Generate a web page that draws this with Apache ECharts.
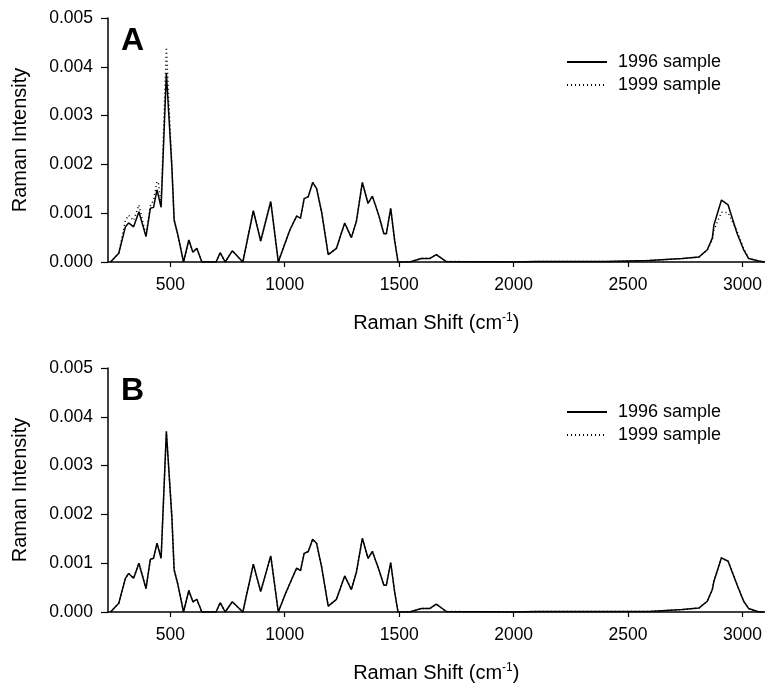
<!DOCTYPE html>
<html>
<head>
<meta charset="utf-8">
<script src="https://cdn.jsdelivr.net/npm/echarts@6/dist/echarts.min.js"></script>
<style>
  html, body { margin: 0; padding: 0; background: #fff; }
  #main { width: 765px; height: 690px; }
</style>
</head>
<body>
<div id="main"></div>
<script>
// Raman shift positions (cm-1) shared by all traces
var shift = [239, 275, 304, 318, 340, 363, 394, 413, 427, 442, 449, 460, 467, 483, 490, 507, 517, 532, 558, 581,
  599, 616, 638, 700, 718, 740, 771, 817, 863, 895, 939, 972, 1001, 1023, 1052, 1069, 1085, 1103, 1122, 1139,
  1161, 1190, 1226, 1262, 1291, 1313, 1339, 1364, 1383, 1412, 1433, 1444, 1463, 1480, 1495, 1546, 1597, 1633, 1662, 1706,
  2000, 2100, 2400, 2591, 2737, 2809, 2846, 2868, 2875, 2908, 2937, 2976, 3005, 3027, 3071, 3096];

// panel A
var a1996 = [0, 0.00018, 0.00072, 0.0008, 0.00072, 0.00103, 0.00052, 0.0011, 0.00112, 0.00148, 0.00144, 0.00112, 0.0011, 0.00387, 0.00387, 0.00195, 0.00086, 0.00058, 0, 0.00045,
  0.0002, 0.00028, 0, 0, 0.00019, 0, 0.00023, 0, 0.00105, 0.00043, 0.00124, 0, 0.00038, 0.00066, 0.00094, 0.0009, 0.0013, 0.00134, 0.00163, 0.00151,
  0.00103, 0.00015, 0.00028, 0.0008, 0.0005, 0.00083, 0.00163, 0.0012, 0.00135, 0.00094, 0.00058, 0.00058, 0.0011, 0.00045, 0, 0, 0.00007, 0.00007, 0.00015, 0.00001,
  0, 0.00001, 0.00001, 0.00003, 0.00007, 0.0001, 0.00025, 0.00049, 0.00076, 0.00127, 0.00117, 0.00059, 0.00025, 0.00007, 0.00002, 0];
var a1999 = [0, 0.00018, 0.00085, 0.00096, 0.00085, 0.00117, 0.00055, 0.00115, 0.00127, 0.00165, 0.0016, 0.00118, 0.00115, 0.0044, 0.0044, 0.00195, 0.00086, 0.00058, 0, 0.00045,
  0.0002, 0.00028, 0, 0, 0.00019, 0, 0.00023, 0, 0.00105, 0.00043, 0.00124, 0, 0.00038, 0.00066, 0.00094, 0.0009, 0.0013, 0.00134, 0.00163, 0.00151,
  0.00103, 0.00015, 0.00028, 0.0008, 0.0005, 0.00083, 0.00163, 0.0012, 0.00135, 0.00094, 0.00058, 0.00058, 0.0011, 0.00045, 0, 0, 0.00007, 0.00007, 0.00015, 0.00001,
  0, 0.00001, 0.00001, 0.00003, 0.00007, 0.0001, 0.00025, 0.00045, 0.00065, 0.00102, 0.00101, 0.00063, 0.00028, 0.00007, 0.00002, 0];

// panel B
var b1996 = [0, 0.00018, 0.00069, 0.00079, 0.00069, 0.001, 0.00048, 0.00108, 0.0011, 0.00141, 0.00139, 0.0011, 0.00107, 0.0037, 0.00373, 0.00195, 0.00086, 0.00059, 0, 0.00044,
  0.00021, 0.00026, 0, 0, 0.00019, 0, 0.00021, 0, 0.00098, 0.00042, 0.00115, 0, 0.00035, 0.00059, 0.0009, 0.00085, 0.0012, 0.00124, 0.00149, 0.00141,
  0.00093, 0.00012, 0.00026, 0.00074, 0.00046, 0.00081, 0.00151, 0.0011, 0.00124, 0.00086, 0.00055, 0.00055, 0.00101, 0.00042, 0, 0, 0.00007, 0.00007, 0.00016, 0.00001,
  0, 0.00001, 0.00001, 0.00001, 0.00005, 0.00008, 0.00022, 0.00046, 0.00063, 0.00111, 0.00104, 0.00056, 0.00022, 0.00007, 0, 0];
var b1999 = b1996.slice();

var xTicks = [500, 1000, 1500, 2000, 2500, 3000];
var seriesNames = ['1996 sample', '1999 sample'];
var panelLabels = ['A', 'B'];

var FONT = 'Liberation Sans, Arial, sans-serif';

function pairs(ys) {
  return shift.map(function (x, i) { return [x, ys[i]]; });
}

function xAxisOf(idx) {
  return {
    type: 'value', gridIndex: idx, min: 228, max: 3096,
    name: '{a|Raman Shift (cm}{s|-1}{a|)}',
    nameLocation: 'middle', nameGap: 50,
    nameTextStyle: {
      rich: {
        a: { fontSize: 20, fontFamily: FONT, color: '#000' },
        s: { fontSize: 12, fontFamily: FONT, color: '#000', verticalAlign: 'top', padding: [0, 0, 10, 0] }
      }
    },
    axisLine: { lineStyle: { color: '#000', width: 1.5 } },
    axisTick: { customValues: xTicks, length: 5, lineStyle: { color: '#000', width: 1.2 } },
    axisLabel: {
      customValues: xTicks, margin: 14, fontSize: 17.5, fontFamily: FONT, color: '#000',
      formatter: function (v) { return String(v); }
    },
    splitLine: { show: false }
  };
}

function yAxisOf(idx) {
  return {
    type: 'value', gridIndex: idx, min: 0, max: 0.005, interval: 0.001,
    name: 'Raman Intensity', nameLocation: 'middle', nameGap: 78,
    nameTextStyle: { fontSize: 20, fontFamily: FONT, color: '#000' },
    axisLine: { show: true, lineStyle: { color: '#000', width: 1.5 } },
    axisTick: { show: true, length: 7, lineStyle: { color: '#000', width: 1.2 } },
    axisLabel: {
      margin: 15, fontSize: 17.5, fontFamily: FONT, color: '#000',
      formatter: function (v) { return v.toFixed(3); }
    },
    splitLine: { show: false }
  };
}

function seriesOf(idx, d96, d99) {
  return [
    {
      name: seriesNames[0], type: 'line', xAxisIndex: idx, yAxisIndex: idx,
      data: pairs(d96), symbol: 'none', z: 3,
      lineStyle: { color: '#000', width: 1.5 }, itemStyle: { color: '#000' }
    },
    {
      name: seriesNames[1], type: 'line', xAxisIndex: idx, yAxisIndex: idx,
      data: pairs(d99), symbol: 'none', z: 2,
      lineStyle: { color: '#000', width: 1.5, type: [1, 3] }, itemStyle: { color: '#000' }
    }
  ];
}

function legendOf(top) {
  return {
    data: seriesNames, orient: 'vertical', left: 566, top: top, padding: 0,
    itemWidth: 40, itemHeight: 14, itemGap: 5, selectedMode: false,
    itemStyle: { opacity: 0 },
    textStyle: { fontSize: 18, fontFamily: FONT, color: '#000', lineHeight: 18, padding: [0, 0, 0, 6] }
  };
}

var chart = echarts.init(document.getElementById('main'));
chart.setOption({
  animation: false,
  backgroundColor: '#fff',
  title: [
    { text: panelLabels[0], left: 116, top: 20, textStyle: { fontSize: 32, fontWeight: 'bold', fontFamily: FONT, color: '#000' } },
    { text: panelLabels[1], left: 116, top: 370, textStyle: { fontSize: 32, fontWeight: 'bold', fontFamily: FONT, color: '#000' } }
  ],
  legend: [legendOf(53), legendOf(403)],
  grid: [
    { left: 108, right: 0, top: 18, height: 244 },
    { left: 108, right: 0, top: 368, height: 244 }
  ],
  xAxis: [xAxisOf(0), xAxisOf(1)],
  yAxis: [yAxisOf(0), yAxisOf(1)],
  series: seriesOf(0, a1996, a1999).concat(seriesOf(1, b1996, b1999))
});
</script>
</body>
</html>
